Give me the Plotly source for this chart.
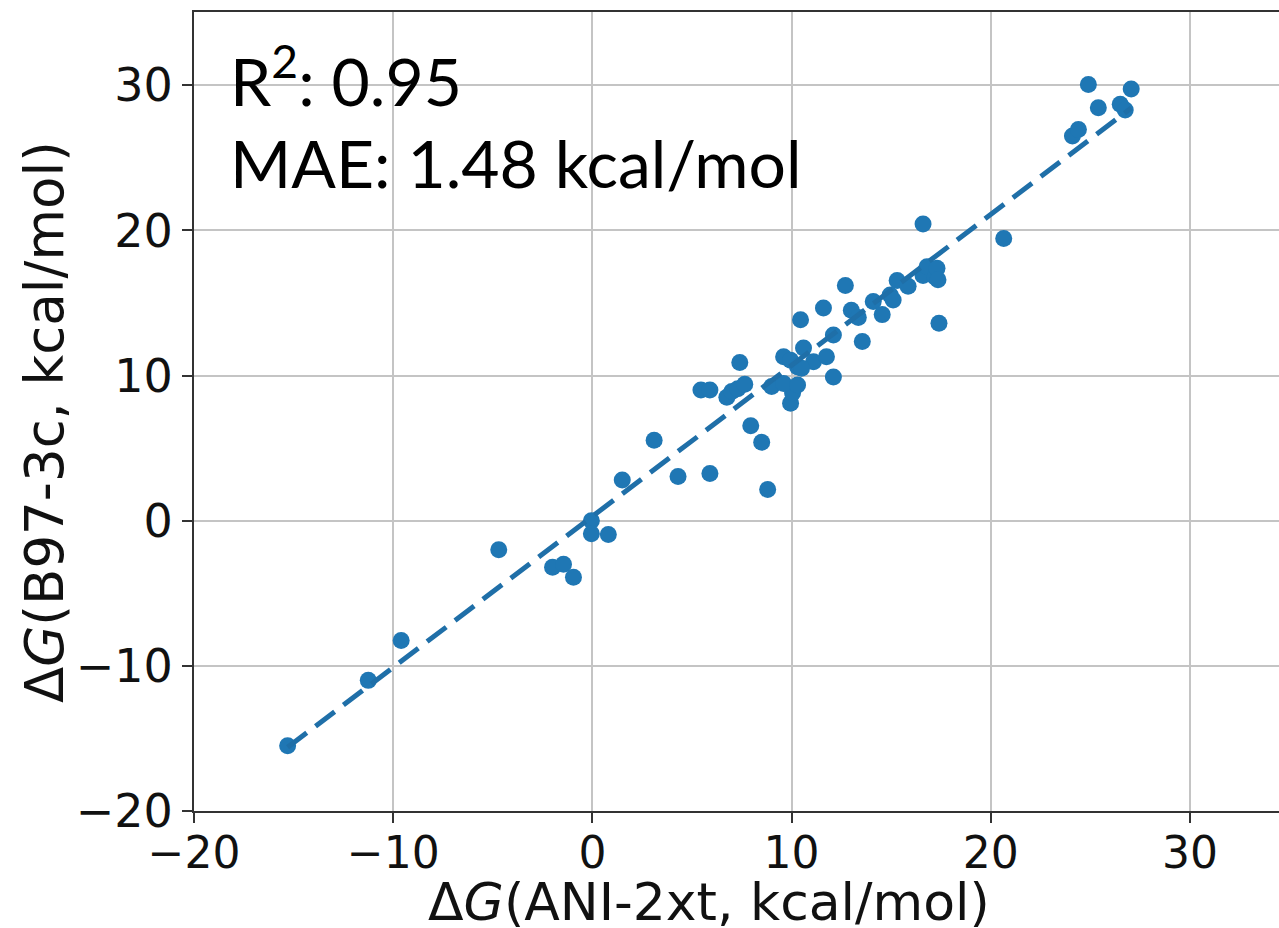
import plotly.graph_objects as go
import numpy as np

# ANI-2xt predicted free energies (x) vs B97-3c reference (y), kcal/mol
dg_ani = [-15.3, -11.25, -9.6, -4.7, -2.0, -1.45, -0.95, -0.05, -0.05, 0.8,
          1.5, 3.1, 4.3, 5.9, 5.45, 5.9, 6.75, 7.0, 7.3, 7.65,
          7.4, 7.95, 8.5, 8.8, 9.0, 9.95, 10.05, 9.6, 10.3, 9.6,
          9.95, 10.3, 10.6, 11.1, 10.5, 10.45, 11.6, 11.75, 12.1, 12.1,
          12.7, 13.0, 13.35, 13.55, 14.1, 14.55, 14.95, 15.3, 15.1, 15.85,
          16.6, 16.6, 16.8, 17.2, 17.3, 17.35, 17.4, 20.65, 24.1, 24.4,
          24.9, 25.4, 26.5, 26.75, 27.05]
dg_b97 = [-15.5, -11.0, -8.25, -2.0, -3.2, -3.0, -3.9, 0.0, -0.9, -0.95,
          2.8, 5.55, 3.05, 3.25, 9.0, 9.0, 8.5, 8.9, 9.1, 9.4,
          10.9, 6.55, 5.4, 2.15, 9.25, 8.1, 8.8, 9.45, 9.35, 11.3,
          11.05, 10.6, 11.9, 10.95, 10.5, 13.85, 14.65, 11.3, 12.8, 9.9,
          16.2, 14.5, 14.0, 12.35, 15.1, 14.2, 15.55, 16.55, 15.2, 16.15,
          20.45, 16.9, 17.5, 16.8, 17.4, 16.6, 13.6, 19.45, 26.5, 26.95,
          30.05, 28.45, 28.7, 28.3, 29.75]

fit_slope = 1.04
fit_intercept = 0.3
r2_text = "R<sup>2</sup>: 0.95"
mae_text = "MAE: 1.48 kcal/mol"
x_title = "\u0394<i>G</i>(ANI-2xt, kcal/mol)"
y_title = "\u0394<i>G</i>(B97-3c, kcal/mol)"
x_ticks = [-20, -10, 0, 10, 20, 30]
y_ticks = [-20, -10, 0, 10, 20, 30]

fit_x = np.array([min(dg_ani), max(dg_ani)])
fit_y = fit_slope * fit_x + fit_intercept

W, H = 1279, 928
L, R, T, B = 194, 0, 12, 117
plot_w = W - L - R
plot_h = H - T - B


def px_to_paper(px, py):
    return (px - L) / plot_w, 1 - (py - T) / plot_h


blue = "#1f77b4"
fig = go.Figure()
fig.add_trace(go.Scatter(x=dg_ani, y=dg_b97, mode="markers",
                         marker=dict(color=blue, size=17, line=dict(width=0)),
                         showlegend=False))
fig.add_trace(go.Scatter(x=fit_x, y=fit_y, mode="lines",
                         line=dict(color="#1f6fa8", width=5, dash="24px,11px"),
                         showlegend=False))

axis_common = dict(showgrid=True, gridcolor="#c4c4c4", gridwidth=1.5,
                   zeroline=False, showline=True, linecolor="#333333", linewidth=2,
                   ticks="outside", ticklen=10, tickwidth=1.5, tickcolor="#333333",
                   automargin=False)

fig.update_layout(
    width=W, height=H,
    margin=dict(l=L, r=R, t=T, b=B, autoexpand=False),
    plot_bgcolor="white", paper_bgcolor="white",
    xaxis=dict(range=[-20, 34.47], tickvals=x_ticks,
               ticktext=[str(v).replace("-", "\u2212") for v in x_ticks],
               mirror=True, ticklabelstandoff=-8,
               tickfont=dict(family="DejaVu Sans", size=44, color="#111111"),
               **axis_common),
    yaxis=dict(range=[-20, 35.05], tickvals=y_ticks,
               ticktext=[str(v).replace("-", "\u2212") for v in y_ticks],
               tickfont=dict(family="DejaVu Sans", size=46, color="#111111"),
               **axis_common),
)

# axis titles
ax, ay = px_to_paper(709, 902)
fig.add_annotation(x=ax, y=ay, xref="paper", yref="paper", text=x_title,
                   showarrow=False, xanchor="center", yanchor="middle",
                   font=dict(family="DejaVu Sans", size=52, color="#111111"))
ax, ay = px_to_paper(44, 422)
fig.add_annotation(x=ax, y=ay, xref="paper", yref="paper", text=y_title,
                   showarrow=False, xanchor="center", yanchor="middle", textangle=-90,
                   font=dict(family="DejaVu Sans", size=53, color="#111111"))

# statistics text
ax, ay = px_to_paper(228, 76)
fig.add_annotation(x=ax, y=ay, xref="paper", yref="paper", text=r2_text,
                   showarrow=False, xanchor="left", yanchor="middle",
                   font=dict(family="Lato, Open Sans", size=66, color="black"))
ax, ay = px_to_paper(228, 163)
fig.add_annotation(x=ax, y=ay, xref="paper", yref="paper", text=mae_text,
                   showarrow=False, xanchor="left", yanchor="middle",
                   font=dict(family="Lato, Open Sans", size=66, color="black"))

fig.write_html("out.html",
               config={"displayModeBar": False},
               post_script="document.body.style.margin='0px';"
                           "document.body.style.overflow='hidden';")
